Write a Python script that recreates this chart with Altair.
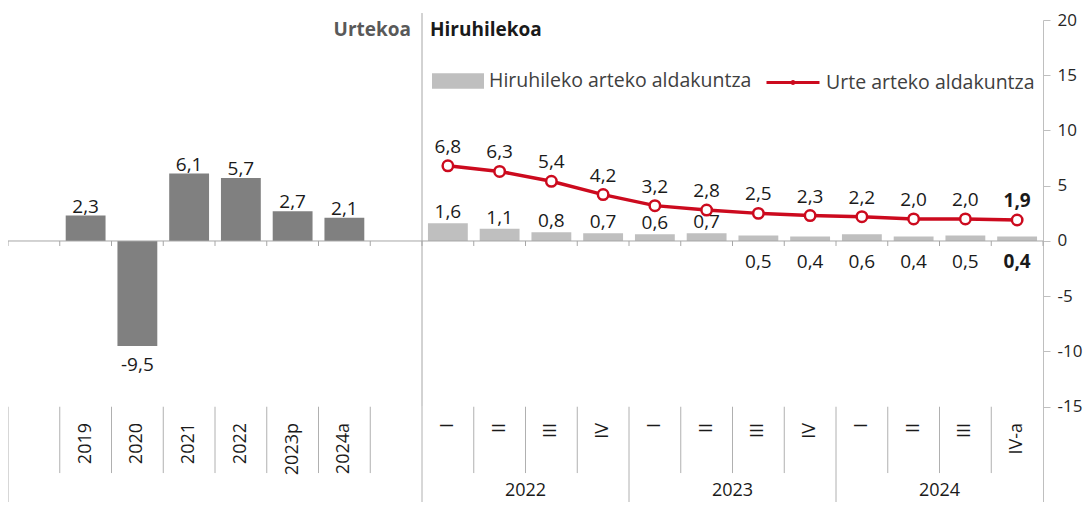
import altair as alt
import pandas as pd

# ---------------- data ----------------
annual_labels = ["2019", "2020", "2021", "2022", "2023p", "2024a"]
annual_values = [2.3, -9.5, 6.1, 5.7, 2.7, 2.1]

quarter_labels = ["I", "II", "III", "IV", "I", "II", "III", "IV", "I", "II", "III", "IV-a"]
quarter_years = ["2022", "2023", "2024"]
quarterly_change = [1.6, 1.1, 0.8, 0.7, 0.6, 0.7, 0.5, 0.4, 0.6, 0.4, 0.5, 0.4]
yearly_change = [6.8, 6.3, 5.4, 4.2, 3.2, 2.8, 2.5, 2.3, 2.2, 2.0, 2.0, 1.9]

y_ticks = [-15, -10, -5, 0, 5, 10, 15, 20]

BAR_NAME = "Hiruhileko arteko aldakuntza"
LINE_NAME = "Urte arteko aldakuntza"
ANNUAL_TITLE = "Urtekoa"
QUARTER_TITLE = "Hiruhilekoa"

# ---------------- style / layout ----------------
RED = "#cc0a1e"
DARK = "#808080"
LIGHT = "#bfbfbf"
AXIS_GREY = "#bfbfbf"
SEP_GREY = "#b0b0b0"
TEXT = "#1a1a1a"
FONT = "Open Sans"

Y_MAX = 20
Y_MIN = -23.62
LABEL_TOP = -15
INNER_SEP_BOTTOM = -21.0
CAT_LABEL_Y = -16.47
GROUP_LABEL_Y = -22.62
TITLE_Y = 19.1
DIVIDER_TOP = 20.63
TICK_LEN = 0.45
BAR_PAD = 0.115
N_SLOTS = 20


def fmt(v):
    return f"{v:.1f}".replace(".", ",")


n_ann = len(annual_labels)
first_q_slot = n_ann + 2

annual_df = pd.DataFrame({"cat": annual_labels, "value": annual_values})
annual_df["slot"] = range(1, n_ann + 1)
annual_df["kind"] = ANNUAL_TITLE
annual_df["idx"] = range(n_ann)

q_df = pd.DataFrame({"cat": quarter_labels, "value": quarterly_change, "line": yearly_change})
q_df["idx"] = range(len(q_df))
q_df["slot"] = q_df["idx"] + first_q_slot
q_df["kind"] = BAR_NAME
q_df["series"] = LINE_NAME
q_df["line_label"] = [fmt(v) for v in q_df["line"]]

for df in (annual_df, q_df):
    df["x0"] = df["slot"] + BAR_PAD
    df["x1"] = df["slot"] + 1 - BAR_PAD
    df["xc"] = df["slot"] + 0.5
    df["base"] = 0.0
    df["label"] = [fmt(v) for v in df["value"]]
    df["cat_y"] = CAT_LABEL_Y

bars_df = pd.concat([annual_df, q_df], ignore_index=True)
last_q = len(q_df) - 1

# boundaries between category slots
outer = {0, n_ann + 2} | {first_q_slot + 4 * k for k in range(len(quarter_years))}
bnd = pd.DataFrame({"b": list(range(N_SLOTS + 1))})
bnd["zero"] = 0.0
bnd["tick_end"] = -TICK_LEN
sep = bnd[bnd["b"] < N_SLOTS].copy()
sep["top"] = LABEL_TOP
sep["bottom"] = [Y_MIN if b in outer else INNER_SEP_BOTTOM for b in sep["b"]]

divider_df = pd.DataFrame({"b": [n_ann + 2], "top": [DIVIDER_TOP], "bottom": [LABEL_TOP]})
zero_df = pd.DataFrame({"x0": [0], "x1": [N_SLOTS], "y": [0.0]})

year_df = pd.DataFrame({"year": quarter_years})
year_df["xc"] = [first_q_slot + 4 * k + 2 for k in range(len(quarter_years))]
year_df["y"] = GROUP_LABEL_Y

title_df = pd.DataFrame({"text": [ANNUAL_TITLE, QUARTER_TITLE], "x": [n_ann + 2] * 2, "y": [TITLE_Y] * 2})

# ---------------- scales / helpers ----------------
X_SCALE = alt.Scale(domain=[0, N_SLOTS], nice=False, zero=False)
Y_SCALE = alt.Scale(domain=[Y_MIN, Y_MAX], nice=False, zero=False)
Y_AXIS = alt.Axis(
    orient="right", values=y_ticks, grid=False, title=None,
    tickSize=7, tickColor=AXIS_GREY, domainColor=AXIS_GREY,
    labelFont=FONT, labelFontSize=17, labelColor="#262626", labelPadding=7,
    labelExpr="toString(datum.value)",
)


def X(field):
    return alt.X(f"{field}:Q", scale=X_SCALE, axis=None)


def Y(field):
    return alt.Y(f"{field}:Q", scale=Y_SCALE, axis=Y_AXIS)


# ---------------- layers ----------------
bar_layer = alt.Chart(bars_df).mark_rect().encode(
    x=X("x0"), x2="x1:Q", y=Y("value"), y2="base:Q",
    color=alt.Color(
        "kind:N",
        scale=alt.Scale(domain=[ANNUAL_TITLE, BAR_NAME], range=[DARK, LIGHT]),
        legend=alt.Legend(
            values=[BAR_NAME], orient="none", legendX=424, legendY=35, title=None,
            symbolType="M-1,-0.3H1V0.3H-1Z", symbolSize=2704, symbolStrokeWidth=0,
            labelFont=FONT, labelFontSize=19.5, labelColor="#404040", labelOffset=5,
            labelLimit=0, padding=0,
        ),
    ),
)

zero_layer = alt.Chart(zero_df).mark_rule(color="#a6a6a6", strokeWidth=1).encode(
    x=X("x0"), x2="x1:Q", y=Y("y"))

tick_layer = alt.Chart(bnd).mark_rule(color="#a6a6a6", strokeWidth=1).encode(
    x=X("b"), y=Y("zero"), y2="tick_end:Q")

sep_layer = alt.Chart(sep).mark_rule(color=SEP_GREY, strokeWidth=1).encode(
    x=X("b"), y=Y("top"), y2="bottom:Q")

divider_layer = alt.Chart(divider_df).mark_rule(color="#a6a6a6", strokeWidth=1).encode(
    x=X("b"), y=Y("top"), y2="bottom:Q")

line_layer = alt.Chart(q_df).mark_line(strokeWidth=3.5).encode(
    x=X("xc"), y=Y("line"),
    stroke=alt.Stroke(
        "series:N",
        scale=alt.Scale(domain=[LINE_NAME], range=[RED]),
        legend=alt.Legend(
            orient="none", legendX=757, legendY=34.5, title=None,
            symbolType="M-1,0H1M0.04,0A0.04,0.04 0 1 1 -0.04,0A0.04,0.04 0 1 1 0.04,0",
            symbolSize=2809, symbolStrokeWidth=3, symbolStrokeColor=RED, symbolFillColor=RED,
            labelFont=FONT, labelFontSize=19.5, labelColor="#404040", labelOffset=5,
            labelLimit=0, padding=0,
        ),
    ),
)

point_layer = alt.Chart(q_df).mark_point(
    shape="circle", filled=True, fill="white", stroke=RED, strokeWidth=2.5, size=110, opacity=1
).encode(x=X("xc"), y=Y("line"))

TXT = dict(font=FONT, fontSize=19, color=TEXT)

ann_pos = alt.Chart(annual_df).transform_filter("datum.value >= 0").mark_text(
    baseline="alphabetic", dy=-3, **TXT).encode(x=X("xc"), y=Y("value"), text="label:N")
ann_neg = alt.Chart(annual_df).transform_filter("datum.value < 0").mark_text(
    baseline="alphabetic", dy=25, **TXT).encode(x=X("xc"), y=Y("value"), text="label:N")

q_above = alt.Chart(q_df).transform_filter("datum.idx < 6").mark_text(
    baseline="alphabetic", dy=-5, **TXT).encode(x=X("xc"), y=Y("value"), text="label:N")
q_below = alt.Chart(q_df).transform_filter(f"datum.idx >= 6 && datum.idx < {last_q}").mark_text(
    baseline="alphabetic", dy=27, **TXT).encode(x=X("xc"), y=Y("base"), text="label:N")
q_below_last = alt.Chart(q_df).transform_filter(f"datum.idx == {last_q}").mark_text(
    baseline="alphabetic", dy=27, fontWeight="bold", **TXT).encode(x=X("xc"), y=Y("base"), text="label:N")

line_lab = alt.Chart(q_df).transform_filter(f"datum.idx < {last_q}").mark_text(
    baseline="alphabetic", dy=-13, **TXT).encode(x=X("xc"), y=Y("line"), text="line_label:N")
line_lab_last = alt.Chart(q_df).transform_filter(f"datum.idx == {last_q}").mark_text(
    baseline="alphabetic", dy=-13, fontWeight="bold", **TXT).encode(x=X("xc"), y=Y("line"), text="line_label:N")

cat_layer = alt.Chart(bars_df).mark_text(
    angle=270, align="right", baseline="middle", font=FONT, fontSize=18, color=TEXT
).encode(x=X("xc"), y=Y("cat_y"), text="cat:N")

year_layer = alt.Chart(year_df).mark_text(
    align="center", baseline="middle", font=FONT, fontSize=18, color=TEXT
).encode(x=X("xc"), y=Y("y"), text="year:N")

title_ann = alt.Chart(title_df).transform_filter(f"datum.text == '{ANNUAL_TITLE}'").mark_text(
    align="right", baseline="middle", dx=-11, font=FONT, fontSize=19, fontWeight="bold", color="#595959"
).encode(x=X("x"), y=Y("y"), text="text:N")
title_q = alt.Chart(title_df).transform_filter(f"datum.text == '{QUARTER_TITLE}'").mark_text(
    align="left", baseline="middle", dx=8, font=FONT, fontSize=19, fontWeight="bold", color=TEXT
).encode(x=X("x"), y=Y("y"), text="text:N")

chart = alt.layer(
    bar_layer, zero_layer, tick_layer, sep_layer, divider_layer,
    line_layer, point_layer,
    ann_pos, ann_neg, q_above, q_below, q_below_last, line_lab, line_lab_last,
    cat_layer, year_layer, title_ann, title_q,
).properties(
    width=1035, height=482,
    padding={"left": 0, "top": 12, "right": 41, "bottom": 0},
    autosize=alt.AutoSizeParams(type="none"),
).configure_view(stroke=None)

chart.save("out.html", embed_options={"renderer": "svg", "actions": False})
